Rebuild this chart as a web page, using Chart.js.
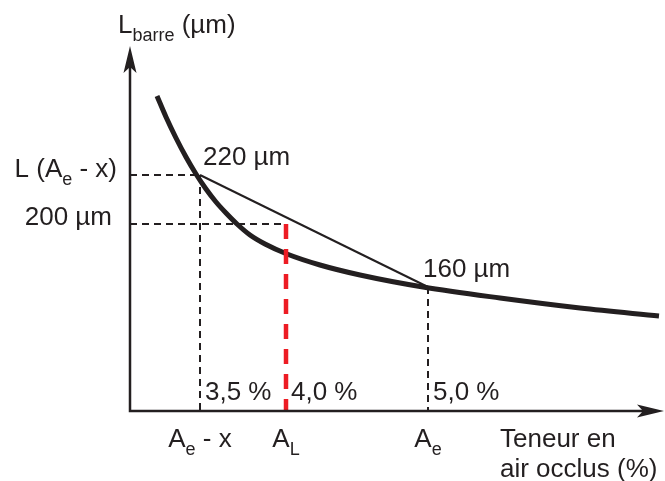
<!DOCTYPE html>
<html>
<head>
<meta charset="utf-8">
<script src="https://cdn.jsdelivr.net/npm/chart.js@4"></script>
<style>
  html, body { margin: 0; padding: 0; background: #fff; }
  canvas { display: block; }
</style>
</head>
<body>
<canvas id="lengthChart" width="665" height="481"></canvas>
<script>
// Courbe schématique (unités arbitraires)
const curveX = [5.4, 7.2, 9.2, 11.2, 13.2, 15.2, 17.2, 19.2, 21.4, 24, 27, 31.4, 38, 46, 58.6, 74, 90, 105.8];
const curveY = [63, 58.8, 54.6, 50.8, 47.4, 44.4, 41.8, 39.6, 37.4, 35.2, 33.4, 31.4, 29.2, 27.2, 24.8, 22.6, 20.6, 19];

// Points repères : Ae - x, AL, Ae
const keyX = [14, 31.2, 59.6];
const keyY = [47.2, 37.4, 24.8];
const keyPct = ['3,5 %', '4,0 %', '5,0 %'];
const keyName = [[['A', 0], ['e', 1], [' - x', 0]], [['A', 0], ['L', 1]], [['A', 0], ['e', 1]]];
const valueLabels = ['220 µm', '200 µm', '160 µm'];

const INK = '#231f20';
const RED = '#ed1c24';
const FONT = '"Liberation Sans", Arial, sans-serif';

function pts(xs, ys) {
    return xs.map((x, i) => ({ x: x, y: ys[i] }));
}

// écrit un texte avec indices
function drawParts(ctx, parts, x, y, align) {
    const big = '26px ' + FONT, small = '18px ' + FONT;
    let w = 0;
    parts.forEach(p => { ctx.font = p[1] ? small : big; w += ctx.measureText(p[0]).width; });
    let cx = x;
    if (align === 'center') cx = x - w / 2;
    if (align === 'right') cx = x - w;
    ctx.textAlign = 'left';
    ctx.textBaseline = 'alphabetic';
    parts.forEach(p => {
        ctx.font = p[1] ? small : big;
        ctx.fillText(p[0], cx, y + (p[1] ? 8 : 0));
        cx += ctx.measureText(p[0]).width;
    });
}

const axesAndText = {
    id: 'axesAndText',
    afterDraw(chart) {
        const ctx = chart.ctx;
        const a = chart.chartArea;
        const sx = chart.scales.x, sy = chart.scales.y;
        ctx.save();
        ctx.strokeStyle = INK;
        ctx.fillStyle = INK;
        ctx.lineWidth = 2.5;
        // axes
        ctx.beginPath();
        ctx.moveTo(a.left, a.top + 10);
        ctx.lineTo(a.left, a.bottom);
        ctx.lineTo(a.right - 10, a.bottom);
        ctx.stroke();
        // flèches
        ctx.beginPath();
        ctx.moveTo(a.left, a.top);
        ctx.lineTo(a.left - 6.5, a.top + 27);
        ctx.lineTo(a.left, a.top + 21);
        ctx.lineTo(a.left + 6.5, a.top + 27);
        ctx.closePath();
        ctx.fill();
        ctx.beginPath();
        ctx.moveTo(a.right, a.bottom);
        ctx.lineTo(a.right - 27, a.bottom - 6.5);
        ctx.lineTo(a.right - 21, a.bottom);
        ctx.lineTo(a.right - 27, a.bottom + 6.5);
        ctx.closePath();
        ctx.fill();

        // titres
        drawParts(ctx, [['L', 0], ['barre', 1], [' (µm)', 0]], a.left - 12, a.top - 13, 'left');
        drawParts(ctx, [['Teneur en', 0]], 500, a.bottom + 36, 'left');
        drawParts(ctx, [['air occlus (%)', 0]], 500, a.bottom + 66, 'left');

        // étiquettes de l'axe y
        drawParts(ctx, [['L (A', 0], ['e', 1], [' - x)', 0]], a.left - 13, sy.getPixelForValue(keyY[0]) + 2, 'right');
        drawParts(ctx, [[valueLabels[1], 0]], a.left - 18, sy.getPixelForValue(keyY[1]) + 1, 'right');

        // valeurs sur la courbe
        drawParts(ctx, [[valueLabels[0], 0]], sx.getPixelForValue(keyX[0]) + 3, sy.getPixelForValue(keyY[0]) - 10, 'left');
        drawParts(ctx, [[valueLabels[2], 0]], sx.getPixelForValue(keyX[2]) - 5, sy.getPixelForValue(keyY[2]) - 10, 'left');

        // pourcentages et noms sous l'axe
        keyX.forEach((v, i) => {
            const px = sx.getPixelForValue(v);
            drawParts(ctx, [[keyPct[i], 0]], px + 5, a.bottom - 11, 'left');
            drawParts(ctx, keyName[i], px, a.bottom + 36, 'center');
        });
        ctx.restore();
    }
};

const dashedInk = { borderColor: INK, borderWidth: 2, borderDash: [7, 5], pointRadius: 0, showLine: true, fill: false, clip: false };

const config = {
    type: 'scatter',
    data: {
        datasets: [
            { data: pts([keyX[1], keyX[1]], [keyY[1], 0]), borderColor: RED, borderWidth: 4.5, borderDash: [15, 10], pointRadius: 0, showLine: true, clip: false },
            { data: pts(curveX, curveY), borderColor: INK, borderWidth: 5, pointRadius: 0, showLine: true, cubicInterpolationMode: 'monotone', clip: false },
            { data: pts([keyX[0], keyX[2]], [keyY[0], keyY[2]]), borderColor: INK, borderWidth: 2, pointRadius: 0, showLine: true, clip: false },
            Object.assign({}, dashedInk, { data: pts([0, keyX[0]], [keyY[0], keyY[0]]) }),
            Object.assign({}, dashedInk, { data: pts([keyX[0], keyX[0]], [keyY[0], 0]) }),
            Object.assign({}, dashedInk, { data: pts([0, keyX[1]], [keyY[1], keyY[1]]) }),
            Object.assign({}, dashedInk, { data: pts([keyX[2], keyX[2]], [keyY[2], 0]) })
        ]
    },
    options: {
        responsive: false,
        animation: false,
        layout: { padding: { left: 130, right: 1, top: 46, bottom: 70 } },
        plugins: { legend: { display: false }, tooltip: { enabled: false } },
        scales: {
            x: { type: 'linear', display: false, min: 0, max: 106.8 },
            y: { type: 'linear', display: false, min: 0, max: 73 }
        }
    },
    plugins: [axesAndText]
};

new Chart(document.getElementById('lengthChart'), config);
</script>
</body>
</html>
